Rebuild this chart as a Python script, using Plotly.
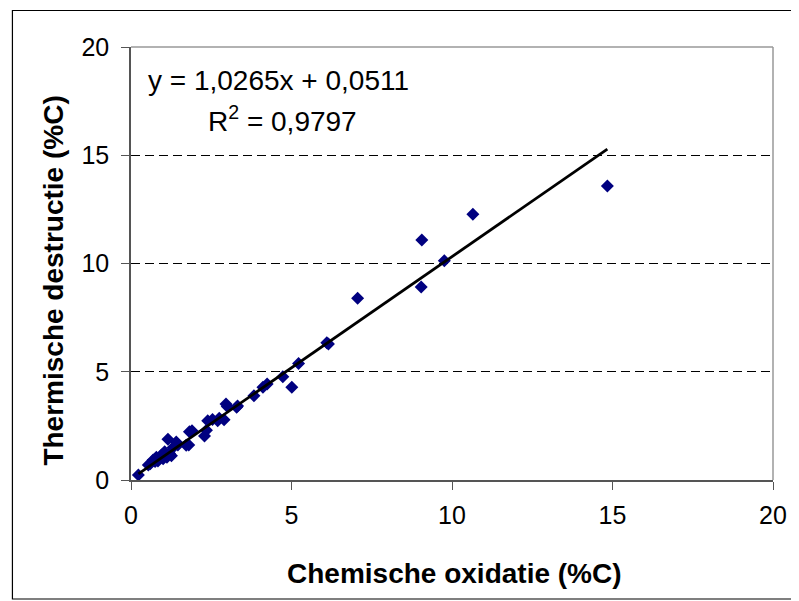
import plotly.graph_objects as go

# Data
chem_ox = [0.23, 0.54, 0.60, 0.69, 0.75, 0.79, 0.84, 0.95, 1.00, 1.05, 1.12, 1.15, 1.20, 1.26,
           1.31, 1.41, 1.46, 1.72, 1.80, 1.82, 1.90, 2.29, 2.35, 2.39, 2.54, 2.70, 2.75, 2.90,
           2.96, 3.00, 3.29, 3.32, 3.83, 4.11, 4.24, 4.73, 5.01, 5.22, 6.10, 6.15, 7.06, 9.04,
           9.06, 9.76, 10.65, 14.84]
therm_destr = [0.23, 0.69, 0.75, 0.92, 0.85, 1.05, 0.88, 1.15, 0.98, 1.30, 1.05, 1.88, 1.22, 1.12,
               1.50, 1.75, 1.62, 1.60, 1.62, 2.23, 2.28, 2.03, 2.30, 2.74, 2.80, 2.74, 2.85, 2.78,
               3.51, 3.40, 3.36, 3.42, 3.89, 4.28, 4.43, 4.77, 4.28, 5.38, 6.34, 6.28, 8.39, 8.91,
               11.08, 10.13, 12.27, 13.58]
slope = 1.0265
intercept = 0.0511
r_squared = 0.9797
axis_ticks = [0, 5, 10, 15, 20]

trend_x = [min(chem_ox), max(chem_ox)]
trend_y = [slope * v + intercept for v in trend_x]

FONT = "Liberation Sans, Arial, sans-serif"

fig = go.Figure()
fig.add_trace(go.Scatter(x=chem_ox, y=therm_destr, mode="markers",
                         marker=dict(symbol="diamond", size=10, color="#000080",
                                     line=dict(width=0)),
                         showlegend=False, cliponaxis=False))
fig.add_trace(go.Scatter(x=trend_x, y=trend_y, mode="lines",
                         line=dict(color="black", width=2.8), showlegend=False))

OFF = 8  # browser default body margin
W, H = 799 - OFF, 601 - OFF
# plot area in page pixels: x 131..778, y 47..480
L, R, T, B = 131 - OFF, W - (778 - OFF), 47 - OFF, H - (480 - OFF)
pw, ph = W - L - R, H - T - B

def px(xp):
    return (xp - OFF - L) / pw

def py(yp):
    return (H - B - (yp - OFF)) / ph

fig.update_layout(
    width=W, height=H,
    margin=dict(l=L, r=R, t=T, b=B),
    paper_bgcolor="white", plot_bgcolor="white",
    font=dict(family=FONT, color="black", size=25),
    xaxis=dict(range=[0, 20], tickvals=axis_ticks, ticks="outside", ticklen=8,
               tickcolor="#555555", showgrid=False, zeroline=False,
               showline=True, linecolor="#555555", linewidth=1.5,
               ticklabelstandoff=4, tickfont=dict(size=25)),
    yaxis=dict(range=[0, 20], tickvals=axis_ticks, ticks="outside", ticklen=8,
               tickcolor="#555555", showgrid=True, gridcolor="black", gridwidth=1,
               griddash="9px,5px", zeroline=False,
               showline=True, linecolor="#555555", linewidth=1.5,
               ticklabelstandoff=7, tickfont=dict(size=25)),
    shapes=[
        # top & right borders of plot area
        dict(type="line", xref="paper", yref="paper", x0=0, x1=1, y0=1, y1=1,
             line=dict(color="#999999", width=1.5)),
        dict(type="line", xref="paper", yref="paper", x0=1, x1=1, y0=0, y1=1,
             line=dict(color="#999999", width=1.5)),
        # outer chart border
        dict(type="rect", xref="paper", yref="paper", x0=px(11.5), x1=px(797.5),
             y0=py(599), y1=py(10.5), line=dict(color="black", width=1.2),
             layer="below"),
    ],
    annotations=[
        dict(text="y = 1,0265x + 0,0511", xref="paper", yref="paper",
             x=px(280), y=py(80), showarrow=False, font=dict(size=28),
             xanchor="center", yanchor="middle"),
        dict(text="R<sup>2</sup> = 0,9797", xref="paper", yref="paper",
             x=px(284), y=py(119), showarrow=False, font=dict(size=28),
             xanchor="center", yanchor="middle"),
        dict(text="<b>Chemische oxidatie (%C)</b>", xref="paper", yref="paper",
             x=px(457), y=py(573), showarrow=False, font=dict(size=28),
             xanchor="center", yanchor="middle"),
        dict(text="<b>Thermische destructie (%C)</b>", xref="paper", yref="paper",
             x=px(52), y=py(281), showarrow=False, font=dict(size=28),
             textangle=-90, xanchor="center", yanchor="middle"),
    ],
)

fig.write_html("out.html")
